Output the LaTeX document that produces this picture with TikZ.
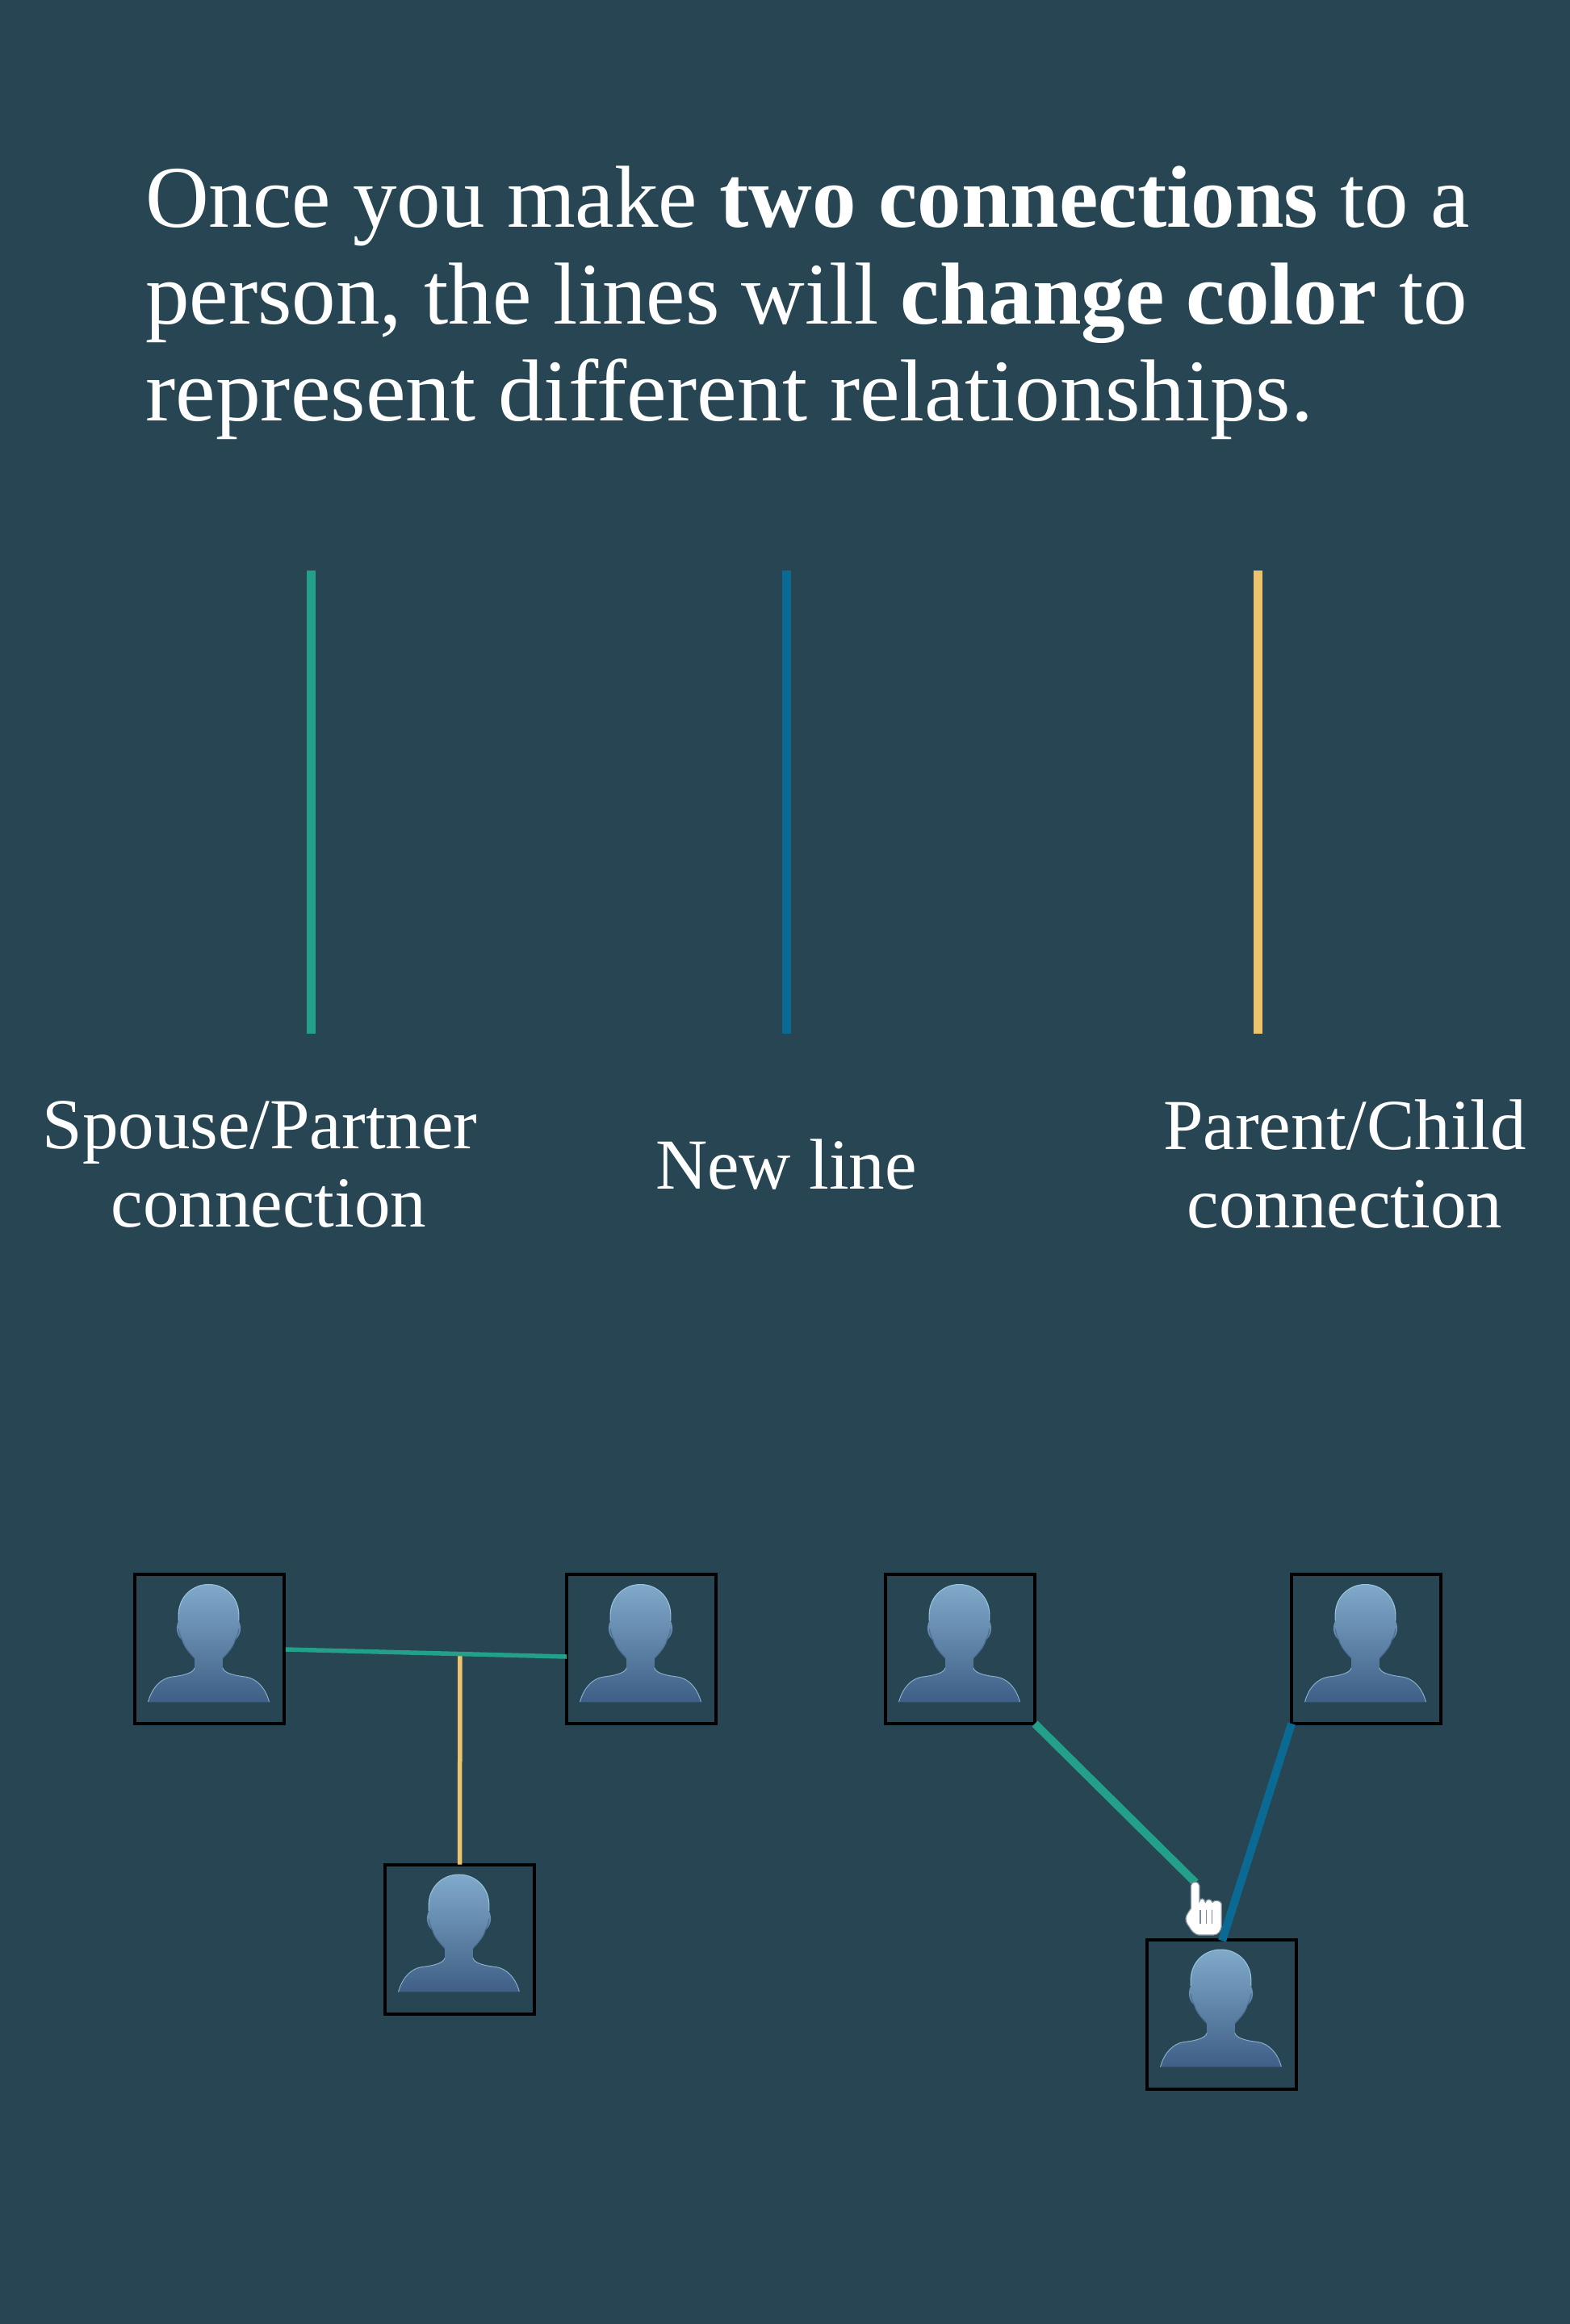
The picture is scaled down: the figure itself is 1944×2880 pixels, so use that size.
\documentclass[tikz,border=0pt]{standalone}
\usepackage{fontspec}
\setmainfont{Liberation Serif}
\definecolor{bgc}{HTML}{274552}
\definecolor{greenc}{HTML}{23A08A}
\definecolor{bluec}{HTML}{0B6A94}
\definecolor{yellowc}{HTML}{EDC46C}
\definecolor{headtop}{HTML}{80A9CA}
\definecolor{bodybot}{HTML}{3F5F86}
\definecolor{rimlight}{HTML}{98C3DA}
\definecolor{rimdark}{HTML}{4C6F94}
\definecolor{cursorrim}{HTML}{7A8A9A}
\tikzset{
  personbox/.style={draw=black,line width=4pt,minimum width=185pt,minimum height=185pt,inner sep=0pt,outer sep=0pt},
  legendline/.style={line width=11pt},
  thinlink/.style={line width=5.5pt},
  thicklink/.style={line width=10pt},
  headline/.style={text=white,font=\fontsize{109}{120}\selectfont,align=left,anchor=base west,inner sep=0pt},
  legendlabel/.style={text=white,font=\fontsize{89}{97}\selectfont,align=center,inner sep=0pt},
  person/.pic={
    \begin{scope}[x=0.3333pt,y=-0.3333pt]
      \path[top color=headtop,bottom color=bodybot]
        (-228,197) .. controls (-213,140) and (-178,110) .. (-143,104)
        .. controls (-108,100) and (-60,92) .. (-55,70)
        -- (-55,34) .. controls (-72,16) and (-94,-6) .. (-101,-33)
        .. controls (-118,-45) and (-130,-75) .. (-115,-105)
        -- (-115,-130) .. controls (-113,-195) and (-63,-240) .. (-3,-240)
        .. controls (57,-240) and (107,-195) .. (109,-130)
        -- (109,-105) .. controls (124,-75) and (112,-45) .. (95,-33)
        .. controls (88,-6) and (66,16) .. (49,34)
        -- (49,70) .. controls (54,92) and (102,100) .. (137,104)
        .. controls (172,110) and (207,140) .. (222,197) -- cycle;
      \draw[rimlight,line width=1.1pt]
        (-115,-105) -- (-115,-130) .. controls (-113,-195) and (-63,-240) .. (-3,-240)
        .. controls (57,-240) and (107,-195) .. (109,-130) -- (109,-105);
      \draw[rimlight!80!bodybot,line width=1pt]
        (-228,197) .. controls (-213,140) and (-178,110) .. (-143,104)
        .. controls (-108,100) and (-60,92) .. (-55,70);
      \draw[rimlight!80!bodybot,line width=1pt]
        (49,70) .. controls (54,92) and (102,100) .. (137,104)
        .. controls (172,110) and (207,140) .. (222,197);
      \draw[rimdark,line width=1.2pt]
        (-115,-75) .. controls (-112,-55) and (-108,-45) .. (-101,-33) .. controls (-94,-6) and (-72,16) .. (-55,34);
      \draw[rimdark,line width=1.2pt]
        (109,-75) .. controls (106,-55) and (102,-45) .. (95,-33) .. controls (88,-6) and (66,16) .. (49,34);
      \draw[bodybot!80!black,line width=1.2pt] (-228,197) -- (222,197);
    \end{scope}
  },
}
\begin{document}
\begin{tikzpicture}[x=1pt,y=-1pt]
\useasboundingbox (0,0) rectangle (1944,2880);
\fill[bgc] (-5,-5) rectangle (1950,2885);

\node[headline] (title) at (180,521) {Once you make \textbf{two connections} to a\\person, the lines will \textbf{change color} to\\{\addfontfeature{FakeStretch=1.025}represent different relationships.}};

\coordinate (g1) at (385.5,707); \coordinate (g2) at (385.5,1281);
\coordinate (n1) at (974,707); \coordinate (n2) at (974,1281);
\coordinate (y1) at (1558,707); \coordinate (y2) at (1558,1281);
\draw[legendline,greenc] (g1) -- (g2);
\draw[legendline,bluec] (n1) -- (n2);
\draw[legendline,yellowc] (y1) -- (y2);

\node[legendlabel] (lspouse) at (322,1443) {Spouse/Partner\\\hspace*{22pt}connection};
\node[legendlabel] (lnew) at (974,1443) {New line};
\node[legendlabel] (lparent) at (1666,1443) {Parent/Child\\connection};

\node[personbox] (p1) at (259.5,2043.5) {};
\node[personbox] (p2) at (794.5,2043.5) {};
\node[personbox] (p3) at (569.5,2403) {};
\node[personbox] (p4) at (1189.5,2043.5) {};
\node[personbox] (p5) at (1692.5,2043.5) {};
\node[personbox] (p6) at (1513.5,2496) {};
\foreach \n in {p1,p2,p3,p4,p5,p6} \pic at (\n.center) {person};

\coordinate (tip) at (1481,2333);
\coordinate (leftend) at (354,2044);
\coordinate (rightend) at (702,2053);
\coordinate (jn) at (570,2048);
\coordinate (p6top) at (1514,2405);
\draw[thinlink,yellowc] (jn) -- (p3.north);
\draw[thinlink,greenc] (leftend) -- (rightend);
\draw[thicklink,greenc] (p4.south east) -- (tip);
\draw[thicklink,bluec] (p5.south west) -- (p6top);

\begin{scope}[shift={(1400,2280)},x=0.3333pt,y=-0.3333pt]
  \draw[cursorrim,fill=white,line width=1.2pt]
    (226,170) .. controls (228,152) and (256,152) .. (258,170) -- (258,228)
    .. controls (260,215) and (276,215) .. (280,232)
    .. controls (284,218) and (302,218) .. (306,232)
    .. controls (312,222) and (338,224) .. (340,238)
    -- (340,320) .. controls (338,342) and (325,354) .. (310,354)
    -- (255,354) .. controls (240,352) and (226,337) .. (220,324)
    .. controls (208,310) and (203,295) .. (210,280)
    .. controls (214,270) and (222,262) .. (226,255) -- cycle;
  \draw[cursorrim,line width=1.5pt] (261,262) -- (261,312) (283,262) -- (283,312) (305,262) -- (305,312);
\end{scope}
\end{tikzpicture}
\end{document}
